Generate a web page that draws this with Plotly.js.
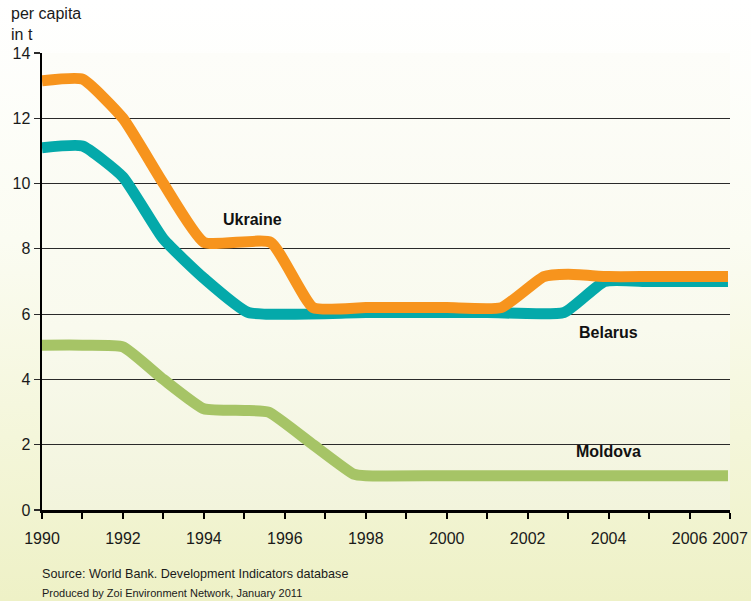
<!DOCTYPE html>
<html>
<head>
<meta charset="utf-8">
<script src="https://cdn.plot.ly/plotly-3.0.1.min.js"></script>
<style>
html,body{margin:0;padding:0;}
body{width:751px;height:601px;background:linear-gradient(to bottom,#ffffff 0%,#fbfcf2 40%,#eef1c6 100%);position:relative;overflow:hidden;}
#panel{position:absolute;left:42px;top:53px;width:688px;height:457px;background:linear-gradient(to bottom,#fdfdf9 0%,#f9faee 60%,#f2f4dc 100%);}
#chart{position:absolute;left:0;top:0;width:751px;height:601px;}
</style>
</head>
<body>
<div id="panel"></div>
<div id="chart"></div>
<script>
// Values (t per capita)
const ukraineYears  = [1990, 1991, 1992, 1993, 1994, 1995.65, 1996.7, 1998, 2000, 2001.35, 2002.4, 2003, 2004, 2005, 2006, 2006.95];
const ukraineValues = [13.15, 13.2, 12.0, 10.0, 8.2, 8.2, 6.2, 6.2, 6.2, 6.2, 7.15, 7.22, 7.15, 7.15, 7.15, 7.15];

const belarusYears  = [1990, 1991, 1992, 1993, 1994, 1995.1, 1998, 2001, 2002.9, 2003.9, 2005, 2006.95];
const belarusValues = [11.1, 11.15, 10.2, 8.3, 7.1, 6.05, 6.05, 6.05, 6.05, 7.0, 7.0, 7.0];

const moldovaYears  = [1990, 1991, 1992, 1993, 1994, 1995, 1995.6, 1996.7, 1997.7, 1998, 2000, 2006.95];
const moldovaValues = [5.05, 5.05, 5.0, 4.0, 3.1, 3.05, 3.0, 2.0, 1.1, 1.05, 1.05, 1.05];

const tickYears  = [1990,1991,1992,1993,1994,1995,1996,1997,1998,1999,2000,2001,2002,2003,2004,2005,2006,2007];
const tickLabels = ['1990','','1992','','1994','','1996','','1998','','2000','','2002','','2004','','2006','2007'];
const yTicks = [0,2,4,6,8,10,12,14];

const colors = {ukraine:'#F7941D', belarus:'#04A9AA', moldova:'#A6C466'};
const mk = (x,y,c)=>({x:x,y:y,type:'scatter',mode:'lines',hoverinfo:'skip',
  line:{color:c,width:11,shape:'spline',smoothing:0.45}});

const data = [
  mk(moldovaYears, moldovaValues, colors.moldova),
  mk(belarusYears, belarusValues, colors.belarus),
  mk(ukraineYears, ukraineValues, colors.ukraine)
];

const lblFont = {family:'Liberation Sans Narrow, Liberation Sans, Arial, sans-serif', size:16, color:'#111', weight:'bold'};
const layout = {
  width:751, height:601,
  margin:{l:42, r:21, t:53, b:91},
  paper_bgcolor:'rgba(0,0,0,0)', plot_bgcolor:'rgba(0,0,0,0)',
  showlegend:false,
  font:{family:'Liberation Sans, Arial, sans-serif', color:'#1a1a1a'},
  xaxis:{range:[1990,2007], tickmode:'array', tickvals:tickYears, ticktext:tickLabels,
    showgrid:false, zeroline:false, showline:true, linecolor:'#000', linewidth:2.5,
    ticks:'outside', ticklen:6, tickwidth:2, tickcolor:'#000',
    tickfont:{size:16, color:'#1a1a1a'}, ticklabelstandoff:6},
  yaxis:{range:[0,14], tickmode:'array', tickvals:yTicks,
    showgrid:true, gridcolor:'#2a2a2a', gridwidth:1, zeroline:false,
    showline:true, linecolor:'#000', linewidth:2.5,
    ticks:'outside', ticklen:6, tickwidth:1.2, tickcolor:'#2a2a2a',
    tickfont:{size:16, color:'#1a1a1a'}},
  annotations:[
    {text:'Ukraine', x:1995.2, y:8.9, xref:'x', yref:'y', showarrow:false, font:lblFont},
    {text:'Belarus', x:2004, y:5.45, xref:'x', yref:'y', showarrow:false, font:lblFont},
    {text:'Moldova', x:2004, y:1.8, xref:'x', yref:'y', showarrow:false, font:lblFont},
    {text:'per capita', x:9, y:14, xref:'paper', yref:'paper', showarrow:false, font:{size:16,color:'#1a1a1a'}},
    {text:'in t', x:9, y:35, xref:'paper', yref:'paper', showarrow:false, font:{size:16,color:'#1a1a1a'}},
    {text:'Source: World Bank. Development Indicators database', x:40, y:574, xref:'paper', yref:'paper', showarrow:false, font:{size:12.6,color:'#1a1a1a'}},
    {text:'Produced by Zoi Environment Network, January 2011', x:40, y:593, xref:'paper', yref:'paper', showarrow:false, font:{size:11,color:'#1a1a1a'}}
  ]
};
// convert pixel-positioned annotations to paper coords
layout.annotations.forEach(a=>{
  if(a.xref==='paper'){
    const px=a.x, py=a.y;
    a.x=(px-42)/688; a.y=(510-py)/457; a.xanchor='left'; a.yanchor='middle';
  }
});
Plotly.newPlot('chart', data, layout, {displayModeBar:false, staticPlot:true});
</script>
</body>
</html>
